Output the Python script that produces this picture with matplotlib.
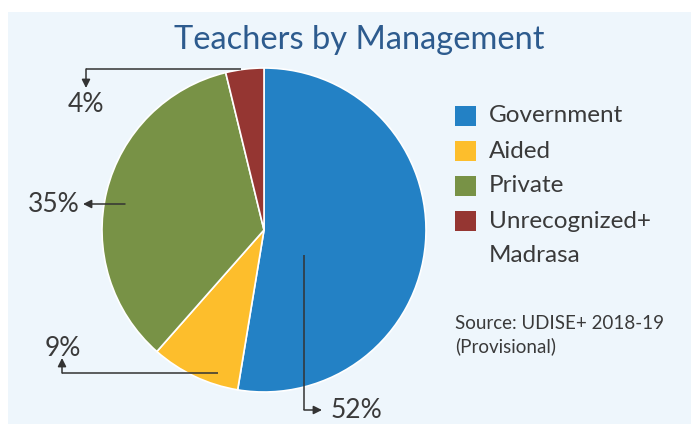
import matplotlib
matplotlib.use("Agg")
import matplotlib.pyplot as plt
from matplotlib.patches import Rectangle

categories = ["Government", "Aided", "Private", "Unrecognized+\nMadrasa"]
shares = [52.6, 8.9, 34.7, 3.8]
pct_labels = ["52%", "9%", "35%", "4%"]
colors = ["#2381C5", "#FDBE2C", "#789246", "#953632"]
title = "Teachers by Management"
source = "Source: UDISE+ 2018-19\n(Provisional)"

W, H = 691, 424
fig = plt.figure(figsize=(W / 100, H / 100), dpi=100, facecolor="white")
ax = fig.add_axes([0, 0, 1, 1])

FONT = "Lato"
TXT = "#3a3a3a"

def Y(y):
    return H - y

# background panel
ax.add_patch(Rectangle((8, 0), W - 8, Y(12), facecolor="#EEF6FC", edgecolor="none", zorder=0))

cx, cy, r = 264, Y(230), 162
wedges, _ = ax.pie(shares, colors=colors, startangle=90, counterclock=False,
                   center=(cx, cy), radius=r,
                   wedgeprops=dict(edgecolor="white", linewidth=1.2), frame=True)
ax.set_xlim(0, W)
ax.set_ylim(0, H)
ax.set_aspect("equal")
ax.axis("off")

ax.text(359, Y(40), title, ha="center", va="center", fontsize=23.5,
        color="#2D5B8E", family=FONT)

# legend
row_y = [116, 151, 186, 221]
for c, lab, yy in zip(colors, categories, row_y):
    ax.add_patch(Rectangle((455, Y(yy) - 10), 21, 20, facecolor=c, edgecolor="none"))
    lines = lab.split("\n")
    for k, line in enumerate(lines):
        ax.text(489, Y(yy + 35 * k), line, ha="left", va="center", fontsize=17.5,
                color=TXT, family=FONT)

ax.text(455, Y(335), source, ha="left", va="center", fontsize=13.5, color=TXT,
        family=FONT, linespacing=1.35)

# callouts: label position, path points (pixels, top-origin)
lw = 1.1
lc = "#333333"
callouts = {
    "52%": dict(pos=(356, 410), path=[(304, 255), (304, 410), (322, 410)]),
    "9%": dict(pos=(63, 348), path=[(218, 373), (62, 373), (62, 358)]),
    "35%": dict(pos=(54, 204), path=[(125, 204), (83, 204)]),
    "4%": dict(pos=(86, 105), path=[(241, 69), (86, 69), (86, 88)]),
}
for lab in pct_labels:
    d = callouts[lab]
    pts = d["path"]
    xs = [p[0] for p in pts[:-1]]
    ys = [Y(p[1]) for p in pts[:-1]]
    ax.plot(xs, ys, color=lc, lw=lw, solid_capstyle="butt")
    ax.annotate("", xy=(pts[-1][0], Y(pts[-1][1])), xytext=(pts[-2][0], Y(pts[-2][1])),
                arrowprops=dict(arrowstyle="-|>,head_length=0.5,head_width=0.25",
                                color=lc, lw=lw, shrinkA=0, shrinkB=0))
    ax.text(d["pos"][0], Y(d["pos"][1]), lab, ha="center", va="center",
            fontsize=19, color=TXT, family=FONT)

fig.savefig("out.png", dpi=100, facecolor="white")
